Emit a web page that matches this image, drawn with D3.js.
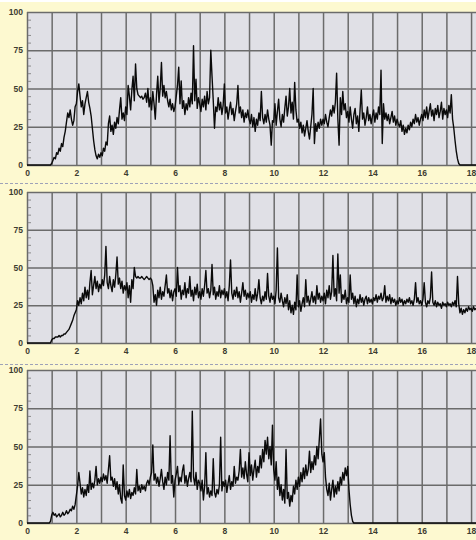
<!DOCTYPE html>
<html>
<head>
<meta charset="utf-8">
<script src="https://cdn.jsdelivr.net/npm/d3@7"></script>
<style>
  html, body { margin: 0; padding: 0; background: #ffffff; }
  svg { display: block; }
</style>
</head>
<body>
<div id="chart"></div>
<script>
// Axis ticks shared by the three recorder strips
const xTickLabels = [0, 2, 4, 6, 8, 10, 12, 14, 16, 18];
const xGridTicks = [0, 1, 2, 3, 4, 5, 6, 7, 8, 9, 10, 11, 12, 13, 14, 15, 16, 17, 18];
const yTickLabels = [0, 25, 50, 75, 100];
const yMinorTicks = [5, 10, 15, 20, 30, 35, 40, 45, 55, 60, 65, 70, 80, 85, 90, 95];
const xDomain = [0, 18.2];
const yDomain = [0, 100];

// Sampling interval of every trace (x units per sample)
const sampleStep = 0.05;

// Trace of the top strip, one row per x unit (20 samples each)
const traceTop = [
  0,0,0,0,0,0,0,0,0,0,0,0,0,0,0,0,0,0,0,0,
  1,3,5,4,8,7,11,9,14,12,18,22,28,34,31,36,30,26,29,38,
  40,48,53,45,38,42,33,40,44,48,41,37,32,24,16,10,6,4,7,5,
  8,6,11,9,15,13,27,32,22,26,20,28,24,31,27,36,44,30,34,29,
  38,33,52,45,36,49,58,42,66,50,46,45,44,45,43,44,47,41,50,38,
  44,36,48,40,30,46,58,41,50,67,45,52,44,48,42,38,43,36,40,35,
  38,45,52,64,40,55,37,42,33,40,36,44,38,47,40,78,42,56,37,44,
  40,35,43,38,45,36,48,40,44,75,58,42,24,38,35,44,36,41,33,39,
  53,34,38,30,36,41,33,37,29,35,40,52,34,38,31,36,28,34,31,36,
  30,27,33,25,31,22,30,26,34,29,48,31,27,33,28,36,30,26,13,29,
  28,40,26,35,43,30,25,33,28,37,45,32,38,50,34,41,30,54,36,28,
  30,24,28,21,26,19,24,29,22,17,25,33,50,14,27,22,28,24,30,26,
  30,27,33,28,25,31,36,32,39,34,41,60,30,13,44,33,48,36,40,31,
  35,28,38,30,24,33,37,27,32,22,36,49,30,34,26,31,38,29,33,27,
  32,36,28,34,30,38,33,62,14,40,30,34,29,33,27,31,35,28,32,26,
  30,27,25,29,22,26,20,24,21,26,23,28,25,30,27,33,28,31,26,30,
  33,29,36,31,38,30,35,40,32,36,29,37,33,39,31,35,41,30,37,33,
  36,31,39,34,46,30,24,16,9,4,1,0,0,0,0,0,0,0,0,0,
  0,0,0,0,0
];

// Trace of the middle strip
const traceMiddle = [
  0,0,0,0,0,0,0,0,0,0,0,0,0,0,0,0,0,0,0,0,
  2,3,3,4,4,4,5,4,5,5,6,6,7,8,9,11,13,15,18,20,
  22,28,25,30,26,33,28,37,30,35,29,40,48,32,38,44,36,41,34,39,
  36,42,38,45,64,40,36,44,38,34,42,37,45,57,39,43,36,41,33,38,
  35,40,30,38,27,42,36,50,44,43,44,43,43,44,43,42,43,44,43,42,
  43,42,38,27,32,25,35,30,37,29,34,31,38,45,33,36,30,35,28,34,
  36,31,50,34,38,29,35,32,40,30,36,33,44,31,35,28,37,32,39,30,
  34,29,36,31,38,48,33,36,30,35,52,32,37,29,34,31,38,30,35,32,
  36,30,34,28,38,55,33,29,35,31,37,30,34,27,33,40,31,35,29,33,
  30,34,27,32,29,36,28,33,42,30,26,31,28,34,29,46,31,27,33,29,
  31,26,35,63,30,27,33,28,24,30,26,32,22,28,20,25,19,27,22,45,
  24,28,21,26,30,24,42,27,31,25,29,34,27,31,26,38,29,33,27,31,
  28,33,26,35,30,38,29,34,58,31,36,28,59,33,45,27,32,29,35,26,
  30,27,45,29,33,26,31,24,29,26,32,27,30,25,29,31,26,30,27,29,
  26,30,28,32,27,31,29,33,28,30,38,27,31,28,32,26,30,27,29,25,
  28,26,30,27,29,25,28,26,29,27,30,26,28,25,29,40,27,30,26,28,
  25,29,40,27,24,28,26,30,47,27,25,28,24,27,25,26,23,27,25,26,
  24,27,25,26,24,27,25,28,24,44,26,20,23,19,22,20,23,21,24,22,
  23,21,24,22,23
];

// Trace of the bottom strip
const traceBottom = [
  0,0,0,0,0,0,0,0,0,0,0,0,0,0,0,0,0,0,0,1,
  5,7,5,6,4,5,6,4,5,7,5,6,8,6,7,9,8,11,9,12,
  18,24,33,26,19,23,17,22,18,25,20,34,22,26,23,28,37,25,29,26,
  30,27,32,28,31,26,35,44,28,30,24,29,22,27,19,25,16,13,38,18,
  15,21,17,22,16,20,18,23,19,35,21,24,20,25,22,24,21,26,28,25,
  30,33,51,28,32,26,30,24,29,35,27,22,30,25,33,28,57,26,31,17,
  28,32,37,25,30,27,34,38,26,31,24,29,33,27,73,30,25,33,22,28,
  26,21,28,15,24,46,19,23,17,21,18,42,20,17,22,19,25,56,21,27,
  24,28,20,26,31,22,27,24,37,26,30,28,34,48,30,36,29,40,32,27,
  46,31,38,28,35,41,30,37,33,44,36,48,40,54,45,56,42,50,38,64,
  35,28,40,22,30,18,25,15,22,13,48,16,20,11,18,14,24,19,28,22,
  30,24,33,27,36,29,38,31,35,47,33,40,35,44,38,50,42,55,68,45,
  40,46,30,22,18,26,15,22,28,17,24,19,27,21,30,25,33,28,36,31,
  37,22,12,5,1,0,0,0,0,0,0,0,0,0,0,0,0,0,0,0,
  0,0,0,0,0,0,0,0,0,0,0,0,0,0,0,0,0,0,0,0,
  0,0,0,0,0,0,0,0,0,0,0,0,0,0,0,0,0,0,0,0,
  0,0,0,0,0,0,0,0,0,0,0,0,0,0,0,0,0,0,0,0,
  0,0,0,0,0,0,0,0,0,0,0,0,0,0,0,0,0,0,0,0,
  0,0,0,0,0
];

const traces = [traceTop, traceMiddle, traceBottom];

// Page layout
const W = 476, H = 540;
const plotLeft = 27, plotRight = 476;
const strips = [
  { top: 12, bottom: 165 },
  { top: 192, bottom: 343 },
  { top: 370, bottom: 523 }
];
const separators = [183.5, 364.5];

const colors = {
  page: "#fdf9d0",
  plot: "#e0e0e6",
  grid: "#6b6b6b",
  minor: "#8a8a8a",
  text: "#3d3d30",
  trace: "#0a0a0a",
  separator: "#9ea2b8"
};

const svg = d3.select("#chart").append("svg")
  .attr("width", W)
  .attr("height", H);

svg.append("rect")
  .attr("x", 0).attr("y", 2)
  .attr("width", W).attr("height", H - 2)
  .attr("fill", colors.page);

const x = d3.scaleLinear().domain(xDomain).range([plotLeft, plotRight]);

strips.forEach((s, k) => {
  const y = d3.scaleLinear().domain(yDomain).range([s.bottom, s.top]);
  const g = svg.append("g");

  g.append("rect")
    .attr("x", plotLeft).attr("y", s.top)
    .attr("width", plotRight - plotLeft).attr("height", s.bottom - s.top)
    .attr("fill", colors.plot);

  // vertical grid on every unit
  g.append("g")
    .attr("transform", `translate(0,${s.bottom})`)
    .call(d3.axisBottom(x).tickValues(xGridTicks).tickSize(-(s.bottom - s.top)).tickFormat(""))
    .call(a => a.select(".domain").remove())
    .call(a => a.selectAll("line").attr("stroke", colors.grid).attr("stroke-width", 1.5));

  // horizontal grid every 25
  g.append("g")
    .attr("transform", `translate(${plotLeft},0)`)
    .call(d3.axisLeft(y).tickValues(yTickLabels).tickSize(-(plotRight - plotLeft)).tickFormat(""))
    .call(a => a.select(".domain").remove())
    .call(a => a.selectAll("line").attr("stroke", colors.grid).attr("stroke-width", 1.5));

  // small minor ticks along the left edge
  g.append("g")
    .attr("transform", `translate(${plotLeft + 1},0)`)
    .call(d3.axisLeft(y).tickValues(yMinorTicks).tickSize(-3).tickFormat(""))
    .call(a => a.select(".domain").remove())
    .call(a => a.selectAll("line").attr("stroke", colors.minor).attr("stroke-width", 1));

  // y labels
  g.append("g")
    .attr("transform", `translate(${plotLeft},0)`)
    .call(d3.axisLeft(y).tickValues(yTickLabels).tickSize(0).tickPadding(4))
    .call(a => a.select(".domain").remove())
    .call(a => a.selectAll("text")
      .attr("fill", colors.text)
      .attr("font-family", "'Liberation Sans', Arial, sans-serif")
      .attr("font-weight", "bold")
      .attr("font-size", 8.5));

  // x labels
  g.append("g")
    .attr("transform", `translate(0,${s.bottom})`)
    .call(d3.axisBottom(x).tickValues(xTickLabels).tickSize(0).tickPadding(5))
    .call(a => a.select(".domain").remove())
    .call(a => a.selectAll("text")
      .attr("fill", colors.text)
      .attr("font-family", "'Liberation Sans', Arial, sans-serif")
      .attr("font-weight", "bold")
      .attr("font-size", 8.5));

  const clipId = `clip-${k}`;
  svg.append("clipPath").attr("id", clipId)
    .append("rect")
    .attr("x", plotLeft).attr("y", s.top - 1)
    .attr("width", plotRight - plotLeft).attr("height", s.bottom - s.top + 2);

  const line = d3.line()
    .x((d, i) => x(i * sampleStep))
    .y(d => y(d));

  g.append("path")
    .datum(traces[k])
    .attr("clip-path", `url(#${clipId})`)
    .attr("fill", "none")
    .attr("stroke", colors.trace)
    .attr("stroke-width", 1.4)
    .attr("stroke-linejoin", "round")
    .attr("d", line);
});

separators.forEach(yy => {
  svg.append("line")
    .attr("x1", 0).attr("x2", W)
    .attr("y1", yy).attr("y2", yy)
    .attr("stroke", colors.separator)
    .attr("stroke-width", 1)
    .attr("stroke-dasharray", "3,2");
});
</script>
</body>
</html>
